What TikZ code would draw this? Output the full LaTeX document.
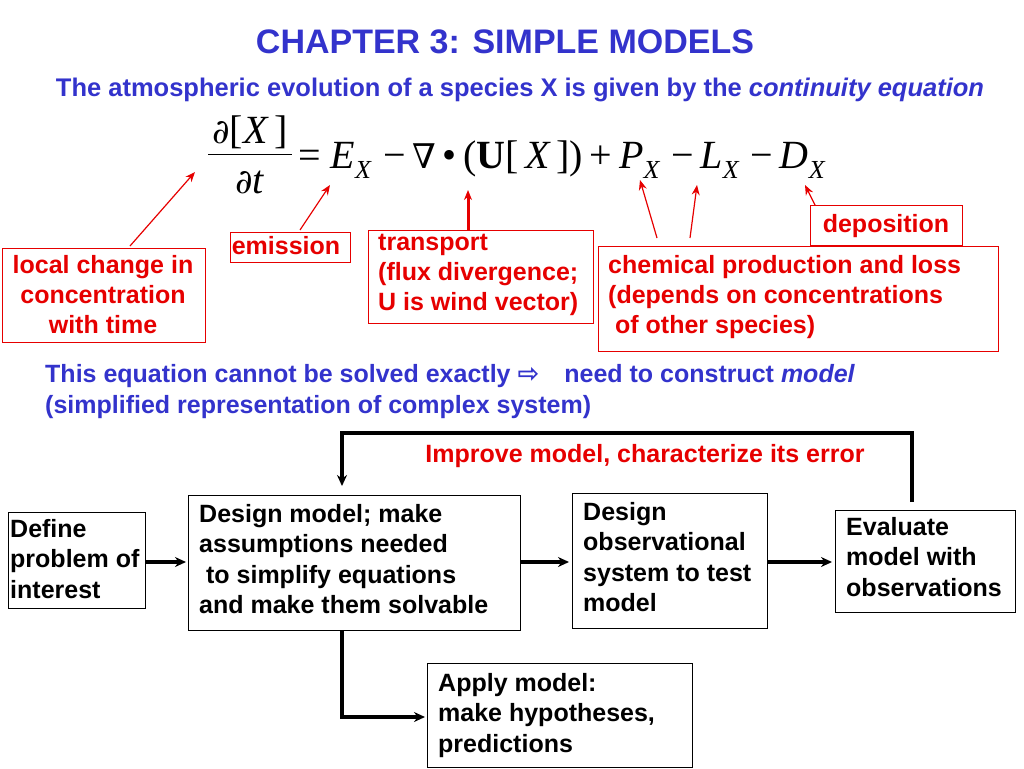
\documentclass[tikz,border=0pt]{standalone}
\usepackage{fontspec}
\setmainfont{Liberation Sans}
\newfontfamily\tms{Liberation Serif}
\newfontfamily\djv{DejaVu Sans}
\newfontfamily\djs{DejaVu Serif}
\usetikzlibrary{arrows.meta}
\definecolor{tblue}{RGB}{51,51,204}
\definecolor{tred}{RGB}{230,0,0}
\newcommand{\sbx}[1]{\raisebox{-0.25em}{\fontsize{26}{26}\selectfont #1}}
\newcommand{\mns}{\;−\,}
\begin{document}
\begin{tikzpicture}[x=1pt,y=-1pt,
 rbox/.style={draw=tred,line width=0.8pt,inner sep=0},
 rtxt/.style={text=tred,font=\fontsize{25}{30}\selectfont\bfseries},
 btxt/.style={text=black,font=\fontsize{25}{30.5}\selectfont\bfseries,align=left,anchor=north west,inner sep=0},
 bbox/.style={draw=black,line width=1pt},
 eqf/.style={font=\fontsize{40}{40}\selectfont\tms,inner sep=0},
 rarr/.style={draw=tred,line width=1.2pt,-{Stealth[length=10pt,width=8pt]}},
 karr/.style={draw=black,line width=3.5pt,-{Stealth[length=11pt,width=10pt]}}]
\useasboundingbox (0,0) rectangle (1024,768);
\node[text=tblue,font=\fontsize{34}{38}\selectfont\bfseries] (title) at (505,42) {CHAPTER 3: SIMPLE MODELS};
\node[text=tblue,font=\fontsize{25.5}{28}\selectfont\bfseries] (l2) at (520,90) {The atmospheric evolution of a species X is given by the \textit{continuity equation}};
\node[eqf,anchor=base] (num) at (250,143) {{\djs\fontsize{34}{34}\selectfont ∂}[\textit{X\,}]};
\node[eqf,anchor=base] (den) at (250,193) {{\djs\fontsize{34}{34}\selectfont ∂}\textit{t}};
\draw[line width=1pt] (208,154) -- (292,154);
\node[eqf,anchor=base west] (eq) at (298,168) {= \textit{E}\sbx{\textit{X}}\mns{\djs\fontsize{34}{34}\selectfont ∇}\,•\,(\textbf{U}[\,\textit{X\,}])\,+\,\textit{P}\sbx{\textit{X}}\mns\textit{L}\sbx{\textit{X}}\mns\textit{D}\sbx{\textit{X}}};
% red boxes
\draw[rbox] (2,248) rectangle (205,342);
\node[rtxt,align=center] (lc) at (103,295) {local change in\\concentration\\with time};
\draw[rbox] (230,232) rectangle (350,262);
\node[rtxt] (em) at (286,246) {emission};
\draw[rbox] (368,230) rectangle (593,323);
\node[rtxt,align=left,anchor=north west,inner sep=0] (tr) at (378,234) {transport\\(flux divergence;\\U is wind vector)};
\draw[rbox] (810,205) rectangle (962,245);
\node[rtxt] (dep) at (886,226) {deposition};
\draw[rbox] (598,246) rectangle (998,351);
\node[rtxt,align=left,anchor=north west,inner sep=0] (ch) at (608,255) {chemical production and loss\\(depends on concentrations\\\ of other species)};
\coordinate (a1) at (195,172); \coordinate (a2) at (330,185); \coordinate (a3) at (468,190);
\coordinate (a4) at (640,180); \coordinate (a5) at (697,185); \coordinate (a6) at (805,185);
\draw[rarr] (130,246) -- (a1);
\draw[rarr] (300,230) -- (a2);
\draw[rarr,line width=3pt] (468,230) -- (a3);
\draw[rarr] (657,238) -- (a4);
\draw[rarr] (690,238) -- (a5);
\draw[rarr] (815,205) -- (a6);
% blue text
\node[text=tblue,font=\fontsize{25}{31}\selectfont\bfseries,align=left,anchor=north west,inner sep=0] (bt) at (45,364) {This equation cannot be solved exactly {\djv\fontsize{26}{26}\selectfont ⇨}\quad need to construct \textit{model}\\(simplified representation of complex system)};
% flowchart
\draw[bbox] (8,512) rectangle (145,608);
\node[btxt] (def) at (10,519) {Define\\problem of\\interest};
\draw[bbox] (188,495) rectangle (520,630);
\node[btxt] (dm) at (199,504) {Design model; make\\assumptions needed\\\ to simplify equations\\and make them solvable};
\draw[bbox] (572,493) rectangle (767,628);
\node[btxt] (ob) at (583,502) {Design\\observational\\system to test\\model};
\draw[bbox] (835,510) rectangle (1015,612);
\node[btxt] (ev) at (846,517) {Evaluate\\model with\\observations};
\draw[bbox] (427,663) rectangle (692,767);
\node[btxt] (ap) at (438,673) {Apply model:\\make hypotheses,\\predictions};
\coordinate (d1) at (186,562); \coordinate (o1) at (569,562); \coordinate (e1) at (832,562);
\coordinate (aa) at (425,717); \coordinate (lp) at (342,486);
\draw[karr] (145,562) -- (d1);
\draw[karr] (520,562) -- (o1);
\draw[karr] (767,562) -- (e1);
\draw[karr] (342,630) |- (aa);
\draw[karr] (912,502) |- (342,433) -- (lp);
\node[rtxt] (imp) at (645,456) {Improve model, characterize its error};
\end{tikzpicture}
\end{document}
